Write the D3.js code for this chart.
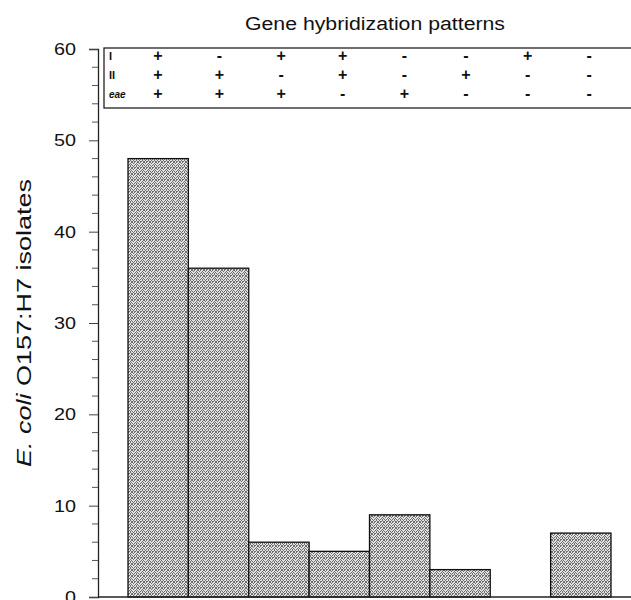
<!DOCTYPE html>
<html>
<head>
<meta charset="utf-8">
<script src="https://cdn.jsdelivr.net/npm/d3@7"></script>
<style>
  body { margin: 0; background: #fff; }
  svg { display: block; font-family: Arial, "Liberation Sans", sans-serif; }
</style>
</head>
<body>
<div id="chart"></div>
<script>
// hybridization patterns (columns) and isolate counts
const patterns = ["p1", "p2", "p3", "p4", "p5", "p6", "p7", "p8"];
const counts = [48, 36, 6, 5, 9, 3, 0, 7];
const rowLabels = ["I", "II", "eae"];
const rowI   = ["+", "-", "+", "+", "-", "-", "+", "-"];
const rowII  = ["+", "+", "-", "+", "-", "+", "-", "-"];
const rowEae = ["+", "+", "+", "-", "+", "-", "-", "-"];
const yTicks = [0, 10, 20, 30, 40, 50, 60];

const W = 631, H = 600;
const svg = d3.select("#chart").append("svg").attr("width", W).attr("height", H);

// stipple fill like the scanned bars (6x6 tile of scattered dark dots)
const defs = svg.append("defs");
const pat = defs.append("pattern").attr("id", "stip")
  .attr("width", 6).attr("height", 6).attr("patternUnits", "userSpaceOnUse");
pat.append("rect").attr("width", 6).attr("height", 6).attr("fill", "#e2e2e2");
const dots = [[0,0],[2,0],[4,1],[1,1],[3,2],[5,2],[0,3],[2,3],[4,4],[1,4],[3,5],[5,5],[5,0],[0,5],[2,5],[4,3]];
pat.selectAll("rect.d").data(dots).enter().append("rect")
  .attr("class", "d")
  .attr("x", d => d[0]).attr("y", d => d[1])
  .attr("width", 1).attr("height", 1)
  .attr("fill", "#6e6e6e");

const axisX = 98;
const y = d3.scaleLinear().domain([0, 60]).range([597, 49]);
const x = d3.scaleBand().domain(patterns).range([128, 611]).padding(0);
const xHead = d3.scaleBand().domain(patterns).range([127, 620]).padding(0);

// bars
svg.selectAll("rect.bar")
  .data(counts.map((v, i) => ({ key: patterns[i], v })).filter(d => d.v > 0))
  .enter().append("rect")
  .attr("class", "bar")
  .attr("x", d => x(d.key))
  .attr("width", x.bandwidth())
  .attr("y", d => y(d.v))
  .attr("height", d => y(0) - y(d.v))
  .attr("fill", "url(#stip)")
  .attr("stroke", "#111")
  .attr("stroke-width", 1.3);

// y axis: major ticks every 10, minor every 2
const yAxis = d3.axisLeft(y).tickValues(yTicks).tickSize(9).tickPadding(13).tickFormat(d3.format("d"));
const gy = svg.append("g").attr("transform", `translate(${axisX},0)`).call(yAxis);
gy.select(".domain").attr("stroke", "#222").attr("stroke-width", 1.3);
gy.selectAll(".tick line").attr("stroke", "#444");
gy.selectAll(".tick text")
  .attr("font-size", 17).attr("fill", "#111")
  .attr("textLength", d => String(d).length * 11)
  .attr("lengthAdjust", "spacingAndGlyphs");
const minor = d3.range(0, 61, 2).filter(v => v % 10 !== 0);
gy.selectAll("line.minor").data(minor).enter().append("line")
  .attr("class", "minor")
  .attr("x1", -6).attr("x2", 0)
  .attr("y1", d => y(d)).attr("y2", d => y(d))
  .attr("stroke", "#555");

// baseline
svg.append("line")
  .attr("x1", axisX).attr("x2", W)
  .attr("y1", y(0)).attr("y2", y(0))
  .attr("stroke", "#222").attr("stroke-width", 1.3);

// y label (scan is stretched along its length)
const yl = svg.append("text")
  .attr("transform", `translate(31,323) rotate(-90)`)
  .attr("text-anchor", "middle")
  .attr("font-size", 21).attr("fill", "#111")
  .attr("textLength", 288)
  .attr("lengthAdjust", "spacingAndGlyphs");
yl.append("tspan").attr("font-style", "italic").text("E. coli");
yl.append("tspan").text(" O157:H7 isolates");

// title
svg.append("text")
  .attr("x", 375).attr("y", 30)
  .attr("text-anchor", "middle")
  .attr("font-size", 18).attr("fill", "#111")
  .attr("textLength", 260)
  .attr("lengthAdjust", "spacingAndGlyphs")
  .text("Gene hybridization patterns");

// pattern table box
const boxTop = 48, boxBot = 108;
svg.append("rect")
  .attr("x", 104).attr("y", boxTop)
  .attr("width", W - 104 + 10).attr("height", boxBot - boxTop)
  .attr("fill", "none").attr("stroke", "#222").attr("stroke-width", 1.3);

const rows = [rowI, rowII, rowEae];
const rowY = [56, 75, 94];
rowLabels.forEach((lab, r) => {
  svg.append("text")
    .attr("x", 109).attr("y", rowY[r] + 4)
    .attr("font-size", lab === "eae" ? 10 : 11)
    .attr("font-weight", "bold")
    .attr("font-style", lab === "eae" ? "italic" : "normal")
    .attr("fill", "#111")
    .text(lab);
  svg.selectAll(null).data(rows[r]).enter().append("text")
    .attr("x", (d, i) => xHead(patterns[i]) + xHead.bandwidth() / 2)
    .attr("y", rowY[r] + 5)
    .attr("text-anchor", "middle")
    .attr("font-size", 16).attr("font-weight", "bold")
    .attr("fill", "#111")
    .text(d => d);
});
</script>
</body>
</html>
